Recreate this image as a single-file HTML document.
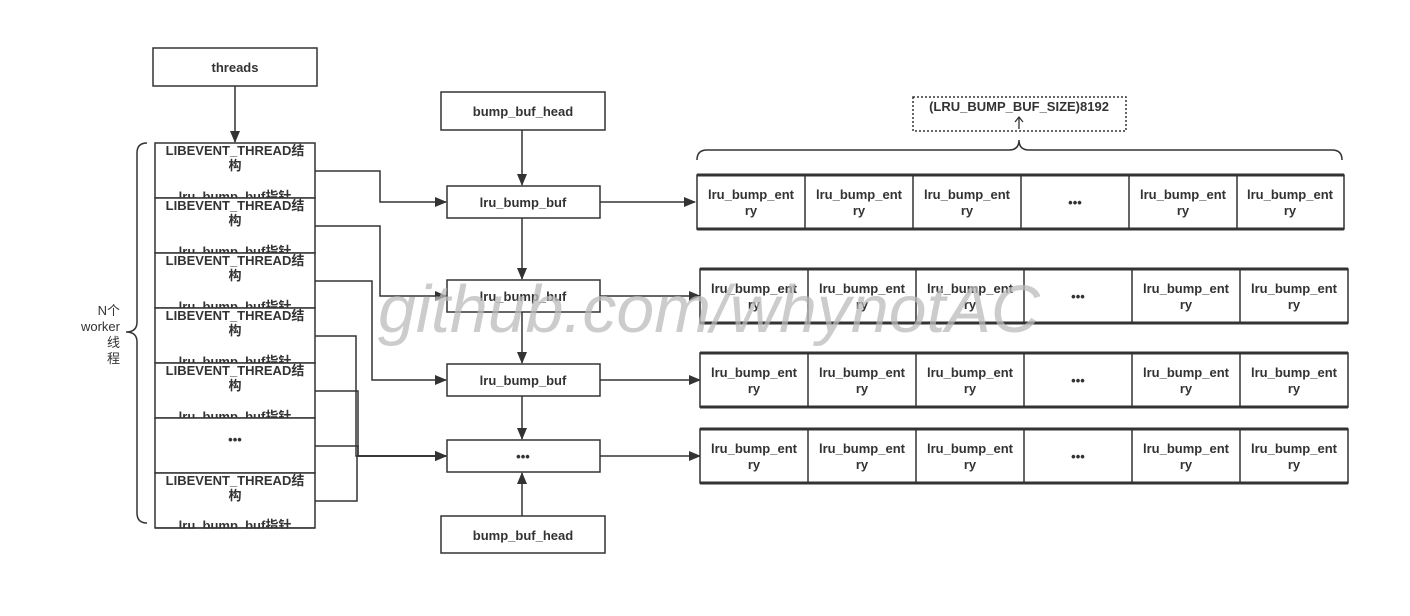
<!DOCTYPE html>
<html><head><meta charset="utf-8"><style>body{margin:0;background:#fff}svg{display:block}
text{font-family:"Liberation Sans","Noto Sans CJK SC",sans-serif;font-size:13px;fill:#333}
.b{font-weight:bold}</style></head><body>
<svg width="1410" height="616" viewBox="0 0 1410 616" xmlns="http://www.w3.org/2000/svg">
<defs><marker id="a" markerWidth="12" markerHeight="10" refX="11" refY="5" orient="auto" markerUnits="userSpaceOnUse"><path d="M0,0 L12,5 L0,10 z" fill="#333"/></marker></defs>
<g stroke="#333" stroke-width="1.5" fill="#fff">
<rect x="153" y="48" width="164" height="38"/>
<rect x="441" y="92" width="164" height="38"/>
<rect x="441" y="516" width="164" height="37"/>
<rect x="447" y="186" width="153" height="32"/>
<rect x="447" y="280" width="153" height="32"/>
<rect x="447" y="364" width="153" height="32"/>
<rect x="447" y="440" width="153" height="32"/>
</g>
<g class="b" text-anchor="middle">
<text x="235" y="72">threads</text>
<text x="523" y="116">bump_buf_head</text>
<text x="523" y="540">bump_buf_head</text>
<text x="523" y="207">lru_bump_buf</text>
<text x="523" y="301">lru_bump_buf</text>
<text x="523" y="385">lru_bump_buf</text>
<text x="523" y="461">•••</text>
</g>
<g class="b" text-anchor="middle" stroke-width="1.5">
<rect x="155" y="143" width="160" height="55" fill="#fff" stroke="#333"/><text x="235" y="155">LIBEVENT_THREAD结</text><text x="235" y="170">构</text><text x="235" y="201">lru_bump_buf指针</text>
<rect x="155" y="198" width="160" height="55" fill="#fff" stroke="#333"/><text x="235" y="210">LIBEVENT_THREAD结</text><text x="235" y="225">构</text><text x="235" y="256">lru_bump_buf指针</text>
<rect x="155" y="253" width="160" height="55" fill="#fff" stroke="#333"/><text x="235" y="265">LIBEVENT_THREAD结</text><text x="235" y="280">构</text><text x="235" y="311">lru_bump_buf指针</text>
<rect x="155" y="308" width="160" height="55" fill="#fff" stroke="#333"/><text x="235" y="320">LIBEVENT_THREAD结</text><text x="235" y="335">构</text><text x="235" y="366">lru_bump_buf指针</text>
<rect x="155" y="363" width="160" height="55" fill="#fff" stroke="#333"/><text x="235" y="375">LIBEVENT_THREAD结</text><text x="235" y="390">构</text><text x="235" y="421">lru_bump_buf指针</text>
<rect x="155" y="418" width="160" height="55" fill="#fff" stroke="#333"/><text x="235" y="444">•••</text>
<rect x="155" y="473" width="160" height="55" fill="#fff" stroke="#333"/><text x="235" y="485">LIBEVENT_THREAD结</text><text x="235" y="500">构</text>
</g>
<text class="b" x="235" y="530" text-anchor="middle">lru_bump_buf指针</text>
<rect x="150" y="528.8" width="170" height="12" fill="#fff"/>
<line x1="155" y1="528" x2="315" y2="528" stroke="#333" stroke-width="1.5"/>
<path d="M147,143 Q137,143 137,153 L137,322 Q137,332 126,332 Q137,332 137,342 L137,513 Q137,523 147,523" fill="none" stroke="#333" stroke-width="1.5"/>
<g text-anchor="end" style="font-size:14px"><text x="120" y="315">N个</text><text x="120" y="331">worker</text><text x="120" y="347">线</text><text x="120" y="363">程</text></g>
<g stroke="#333" stroke-width="1.5" fill="none" marker-end="url(#a)">
<path d="M235,86 V142"/>
<path d="M522,130 V185"/>
<path d="M522,218 V279"/>
<path d="M522,312 V363"/>
<path d="M522,396 V439"/>
<path d="M522,516 V473"/>
<path d="M315,171 H380 V202 H446"/>
<path d="M315,226 H380 V296 H446"/>
<path d="M315,281 H372 V380 H446"/>
<path d="M315,336 H356 V456 H446"/>
<path d="M315,391 H358 V456 H446"/>
<path d="M315,446 H358 V456 H446"/>
<path d="M315,501 H357 V456 H446"/>
<path d="M600,202 H695"/>
<path d="M600,296 H700"/>
<path d="M600,380 H700"/>
<path d="M600,456 H700"/>
</g>
<g stroke="#333" fill="#fff">
<rect x="697" y="175" width="647" height="54" stroke-width="1.5"/>
<line x1="697" y1="175" x2="1344" y2="175" stroke-width="3"/><line x1="697" y1="229" x2="1344" y2="229" stroke-width="3"/>
<rect x="700" y="269" width="648" height="54" stroke-width="1.5"/>
<line x1="700" y1="269" x2="1348" y2="269" stroke-width="3"/><line x1="700" y1="323" x2="1348" y2="323" stroke-width="3"/>
<rect x="700" y="353" width="648" height="54" stroke-width="1.5"/>
<line x1="700" y1="353" x2="1348" y2="353" stroke-width="3"/><line x1="700" y1="407" x2="1348" y2="407" stroke-width="3"/>
<rect x="700" y="429" width="648" height="54" stroke-width="1.5"/>
<line x1="700" y1="429" x2="1348" y2="429" stroke-width="3"/><line x1="700" y1="483" x2="1348" y2="483" stroke-width="3"/>
<path d="M805,175V229M913,175V229M1021,175V229M1129,175V229M1237,175V229" stroke-width="1.5"/>
<path d="M808,269V323M916,269V323M1024,269V323M1132,269V323M1240,269V323" stroke-width="1.5"/>
<path d="M808,353V407M916,353V407M1024,353V407M1132,353V407M1240,353V407" stroke-width="1.5"/>
<path d="M808,429V483M916,429V483M1024,429V483M1132,429V483M1240,429V483" stroke-width="1.5"/>
</g>
<g class="b" text-anchor="middle">
<text x="751" y="199">lru_bump_ent</text><text x="751" y="215">ry</text>
<text x="859" y="199">lru_bump_ent</text><text x="859" y="215">ry</text>
<text x="967" y="199">lru_bump_ent</text><text x="967" y="215">ry</text>
<text x="1075" y="207">•••</text>
<text x="1183" y="199">lru_bump_ent</text><text x="1183" y="215">ry</text>
<text x="1290" y="199">lru_bump_ent</text><text x="1290" y="215">ry</text>
</g>
<g class="b" text-anchor="middle">
<text x="754" y="293">lru_bump_ent</text><text x="754" y="309">ry</text>
<text x="862" y="293">lru_bump_ent</text><text x="862" y="309">ry</text>
<text x="970" y="293">lru_bump_ent</text><text x="970" y="309">ry</text>
<text x="1078" y="301">•••</text>
<text x="1186" y="293">lru_bump_ent</text><text x="1186" y="309">ry</text>
<text x="1294" y="293">lru_bump_ent</text><text x="1294" y="309">ry</text>
</g>
<g class="b" text-anchor="middle">
<text x="754" y="377">lru_bump_ent</text><text x="754" y="393">ry</text>
<text x="862" y="377">lru_bump_ent</text><text x="862" y="393">ry</text>
<text x="970" y="377">lru_bump_ent</text><text x="970" y="393">ry</text>
<text x="1078" y="385">•••</text>
<text x="1186" y="377">lru_bump_ent</text><text x="1186" y="393">ry</text>
<text x="1294" y="377">lru_bump_ent</text><text x="1294" y="393">ry</text>
</g>
<g class="b" text-anchor="middle">
<text x="754" y="453">lru_bump_ent</text><text x="754" y="469">ry</text>
<text x="862" y="453">lru_bump_ent</text><text x="862" y="469">ry</text>
<text x="970" y="453">lru_bump_ent</text><text x="970" y="469">ry</text>
<text x="1078" y="461">•••</text>
<text x="1186" y="453">lru_bump_ent</text><text x="1186" y="469">ry</text>
<text x="1294" y="453">lru_bump_ent</text><text x="1294" y="469">ry</text>
</g>
<rect x="913" y="97" width="213" height="34" fill="none" stroke="#333" stroke-width="1.5" stroke-dasharray="2,2"/>
<text class="b" x="1019" y="111" text-anchor="middle">(LRU_BUMP_BUF_SIZE)8192</text>
<path d="M1019,129 V118 M1015,122 L1019,117 L1023,122" stroke="#333" stroke-width="1.3" fill="none"/>
<path d="M697,160 Q697,150 707,150 L1009,150 Q1019,150 1019,140 Q1019,150 1029,150 L1332,150 Q1342,150 1342,160" fill="none" stroke="#333" stroke-width="1.5"/>
<text x="378" y="332" textLength="662" lengthAdjust="spacingAndGlyphs" style="font-size:67px;font-style:italic;fill:#bbb;fill-opacity:0.75">github.com/whynotAC</text>
</svg>
</body></html>
